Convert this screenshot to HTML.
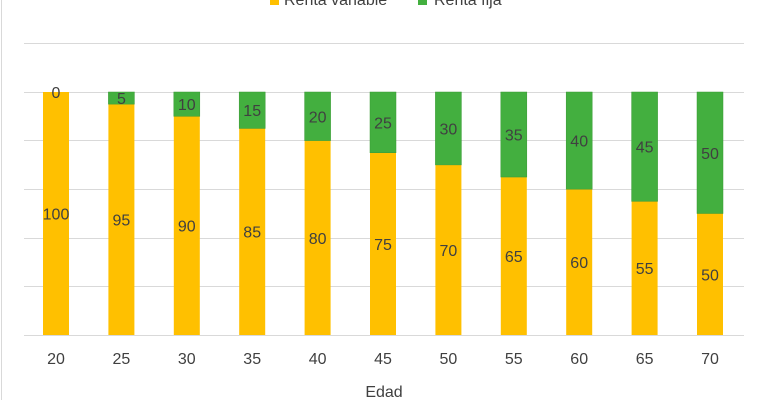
<!DOCTYPE html>
<html><head><meta charset="utf-8"><style>
body{margin:0;background:#fff;}
svg{display:block;font-family:"Liberation Sans",sans-serif;}
</style></head><body>
<svg width="768" height="400" xmlns="http://www.w3.org/2000/svg">
<rect x="0" y="0" width="768" height="400" fill="#fff"/>
<line x1="1.5" y1="0" x2="1.5" y2="400" stroke="#d9d9d9" stroke-width="1"/>
<g stroke="#d9d9d9" stroke-width="1">
<line x1="24" y1="43.5" x2="744" y2="43.5"/>
<line x1="24" y1="92.5" x2="744" y2="92.5"/>
<line x1="24" y1="140.5" x2="744" y2="140.5"/>
<line x1="24" y1="189.5" x2="744" y2="189.5"/>
<line x1="24" y1="238.5" x2="744" y2="238.5"/>
<line x1="24" y1="286.5" x2="744" y2="286.5"/>
</g>
<g fill="#FFC000">
<rect x="43" y="92" width="26" height="243"/>
<rect x="108.4" y="104.15" width="26" height="230.85"/>
<rect x="173.8" y="116.3" width="26" height="218.7"/>
<rect x="239.2" y="128.45" width="26" height="206.55"/>
<rect x="304.6" y="140.6" width="26" height="194.4"/>
<rect x="370" y="152.75" width="26" height="182.25"/>
<rect x="435.4" y="164.9" width="26" height="170.1"/>
<rect x="500.8" y="177.05" width="26" height="157.95"/>
<rect x="566.2" y="189.2" width="26" height="145.8"/>
<rect x="631.6" y="201.35" width="26" height="133.65"/>
<rect x="697" y="213.5" width="26" height="121.5"/>
</g>
<g fill="#43AF3F" stroke="#3a9a36" stroke-width="0.5">
<rect x="108.4" y="92" width="26" height="12.15"/>
<rect x="173.8" y="92" width="26" height="24.3"/>
<rect x="239.2" y="92" width="26" height="36.45"/>
<rect x="304.6" y="92" width="26" height="48.6"/>
<rect x="370" y="92" width="26" height="60.75"/>
<rect x="435.4" y="92" width="26" height="72.9"/>
<rect x="500.8" y="92" width="26" height="85.05"/>
<rect x="566.2" y="92" width="26" height="97.2"/>
<rect x="631.6" y="92" width="26" height="109.35"/>
<rect x="697" y="92" width="26" height="121.5"/>
</g>
<line x1="24" y1="335.5" x2="744" y2="335.5" stroke="#d9d9d9" stroke-width="1"/>
<g font-size="16" fill="#404040" text-anchor="middle">
<text x="56" y="219.5">100</text><text x="56" y="98">0</text><text x="56" y="364">20</text>
<text x="121.4" y="225.6">95</text><text x="121.4" y="104.1">5</text><text x="121.4" y="364">25</text>
<text x="186.8" y="231.7">90</text><text x="186.8" y="110.2">10</text><text x="186.8" y="364">30</text>
<text x="252.2" y="237.7">85</text><text x="252.2" y="116.2">15</text><text x="252.2" y="364">35</text>
<text x="317.6" y="243.8">80</text><text x="317.6" y="122.3">20</text><text x="317.6" y="364">40</text>
<text x="383" y="249.9">75</text><text x="383" y="128.4">25</text><text x="383" y="364">45</text>
<text x="448.4" y="256">70</text><text x="448.4" y="134.5">30</text><text x="448.4" y="364">50</text>
<text x="513.8" y="262">65</text><text x="513.8" y="140.5">35</text><text x="513.8" y="364">55</text>
<text x="579.2" y="268.1">60</text><text x="579.2" y="146.6">40</text><text x="579.2" y="364">60</text>
<text x="644.6" y="274.2">55</text><text x="644.6" y="152.7">45</text><text x="644.6" y="364">65</text>
<text x="710" y="280.3">50</text><text x="710" y="158.8">50</text><text x="710" y="364">70</text>
<text x="384" y="397">Edad</text>
</g>
<g font-size="16" fill="#404040">
<rect x="270" y="-4" width="9" height="9" fill="#FFC000"/>
<text x="284" y="5">Renta variable</text>
<rect x="418" y="-4" width="9" height="9" fill="#43AF3F"/>
<text x="434" y="5">Renta fija</text>
</g>
</svg>
</body></html>
